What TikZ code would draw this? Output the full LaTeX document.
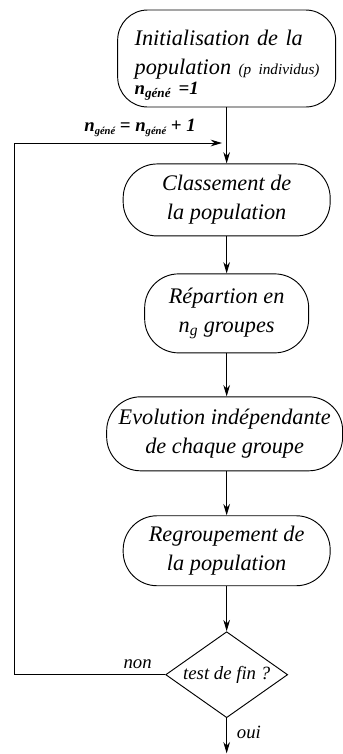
\documentclass[tikz,border=0pt]{standalone}
\usepackage{fontspec}
\setmainfont{Liberation Serif}
\usetikzlibrary{positioning,shapes.geometric,arrows.meta}
\tikzset{
  flow box/.style={draw,line width=0.8pt,rounded corners=1.02cm,align=center,
    font=\fontsize{19}{25}\selectfont\itshape,inner sep=4pt,minimum height=2cm},
  flow test/.style={draw,line width=0.8pt,diamond,shape aspect=1.42,inner sep=0pt,
    minimum width=3.66cm,minimum height=2.58cm,font=\fontsize{16}{18}\selectfont\itshape},
  flow arrow/.style={-{Stealth[length=3.4mm,width=2mm]},line width=0.8pt},
  flow label/.style={font=\fontsize{16}{18}\selectfont\itshape}
}

\begin{document}
\begin{tikzpicture}[node distance=1.5cm]
  \useasboundingbox (0,0) rectangle (10.29,-22.62);
  \node[flow box,rounded corners=0.9cm,align=left,text width=5.52cm,inner xsep=0.51cm,inner ysep=2pt,minimum height=2.91cm] (init) at (6.8,-1.755)
    {\rule{0pt}{24pt}Initialisation de la\\\mbox{population {\fontsize{13}{14}\selectfont (p individus)}}\\[-8pt]{\fontsize{16}{18}\selectfont\textbf{n\textsubscript{géné} =1}}};
  \node[flow box,minimum width=6.21cm,minimum height=2.16cm,below=1.68cm of init] (rank) {Classement de\\la population};
  \node[flow box,minimum width=4.92cm,minimum height=2.37cm,below=1.11cm of rank] (split) {Répartion en\\n\textsubscript{g} groupes};
  \node[flow box,minimum width=7.08cm,minimum height=2.22cm,below=1.29cm of split,xshift=-0.06cm] (evolve) {Evolution indépendante\\de chaque groupe};
  \node[flow box,minimum width=6.21cm,minimum height=2.1cm,below=1.32cm of split|-evolve.south] (merge) {Regroupement de\\la population};
  \node[flow test,below=1.35cm of merge] (test) {test de fin ?};
  \coordinate (end) at (6.8,-22.6);
  \coordinate (loopend) at (6.66,-4.29);
  \coordinate (loopleft) at (0.42,-4.29);
  \node[flow label] (incr) at (4.2,-3.84) {\textbf{n{\fontsize{9}{10}\selectfont\raisebox{-3pt}{géné}} = n{\fontsize{9}{10}\selectfont\raisebox{-3pt}{géné}} + 1}};
  \node[flow label,above left=2pt and 8pt of test.west] (no) {non};
  \draw[flow arrow] (init) -- (rank);
  \draw[flow arrow] (rank) -- (split);
  \draw[flow arrow] (split) -- (split|-evolve.north);
  \draw[flow arrow] (split|-evolve.south) -- (merge);
  \draw[flow arrow] (merge) -- (test);
  \draw[flow arrow] (test) -- node[flow label,right=5pt,pos=0.4] (yes) {oui} (end);
  \draw[flow arrow] (test.west) -| (loopleft) -- (loopend);
\end{tikzpicture}
\end{document}
